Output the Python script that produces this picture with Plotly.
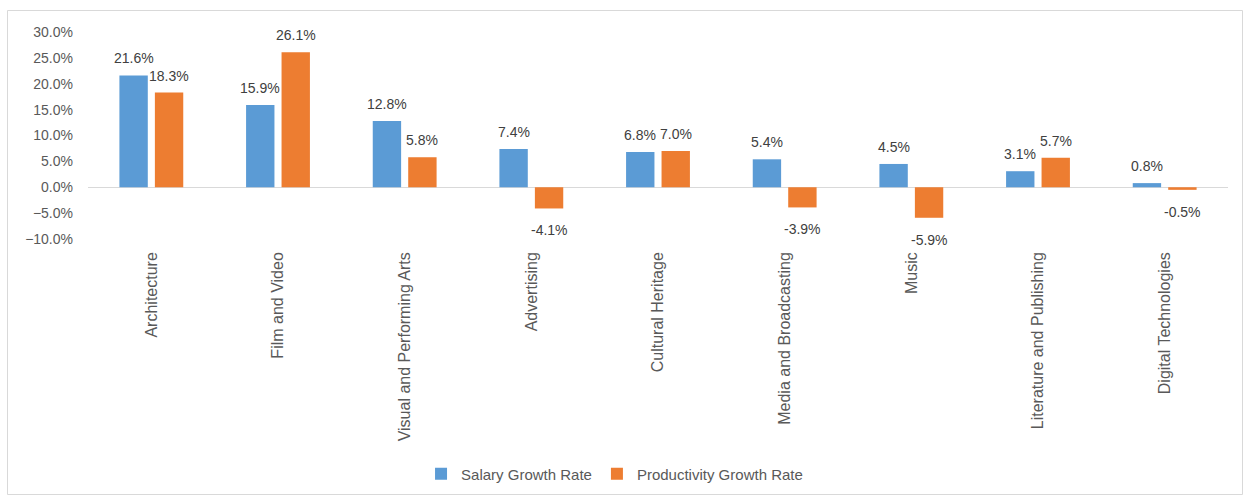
import plotly.graph_objects as go

categories = ["Architecture", "Film and Video", "Visual and Performing Arts", "Advertising",
              "Cultural Heritage", "Media and Broadcasting", "Music",
              "Literature and Publishing", "Digital Technologies"]
salary_growth = [21.6, 15.9, 12.8, 7.4, 6.8, 5.4, 4.5, 3.1, 0.8]
productivity_growth = [18.3, 26.1, 5.8, -4.1, 7.0, -3.9, -5.9, 5.7, -0.5]
y_ticks = [-10, -5, 0, 5, 10, 15, 20, 25, 30]

BLUE = "#5B9BD5"
ORANGE = "#ED7D31"
TEXT = "#595959"
FONT = "Liberation Sans, Arial, sans-serif"

W, H = 1244, 498
ML, MR, MT, MB = 88, 16, 32, 259
BARGAP, GROUPGAP = 0.44, 0.2
plot_w = W - ML - MR
plot_h = H - MT - MB
slot = plot_w / len(categories) * (1 - BARGAP) / 2

fig = go.Figure()
for name, vals, color in [("Salary Growth Rate", salary_growth, BLUE),
                          ("Productivity Growth Rate", productivity_growth, ORANGE)]:
    fig.add_trace(go.Bar(x=categories, y=[v / 100 for v in vals], name=name,
                         marker=dict(color=color, line=dict(width=0))))

# value labels above positive bars, below negative bars
annotations = []
for vals, shift in [(salary_growth, -slot / 2), (productivity_growth, slot / 2)]:
    for cat, v in zip(categories, vals):
        annotations.append(dict(x=cat, y=v / 100, text=f"{v:.1f}%", showarrow=False,
                                xshift=shift, yshift=17 if v >= 0 else -22,
                                yanchor="middle", xanchor="center",
                                font=dict(family=FONT, size=14, color="#404040")))


def px_x(px):
    return (px - ML) / plot_w


def px_y(py):
    return (H - MB - py) / plot_h


fig.update_layout(
    width=W, height=H,
    margin=dict(l=ML, r=MR, t=MT, b=MB),
    paper_bgcolor="white", plot_bgcolor="white",
    barmode="group", bargap=BARGAP, bargroupgap=GROUPGAP,
    font=dict(family=FONT, color=TEXT),
    annotations=annotations,
    shapes=[dict(type="rect", xref="paper", yref="paper",
                 x0=px_x(7.5), x1=px_x(1242.5), y0=px_y(494.5), y1=px_y(10.5),
                 line=dict(color="#D9D9D9", width=1), fillcolor="rgba(0,0,0,0)",
                 layer="below")],
    legend=dict(orientation="h", xref="container", yref="container",
                x=0.494, y=0.048, xanchor="center", yanchor="middle",
                font=dict(family=FONT, size=15, color=TEXT),
                itemwidth=30, tracegroupgap=0),
    xaxis=dict(tickangle=-90, showline=False, showgrid=False, ticks="",
               tickfont=dict(family=FONT, size=16, color=TEXT),
               ticklabelstandoff=9),
    yaxis=dict(range=[-0.10, 0.30], tickvals=[t / 100 for t in y_ticks],
               tickformat=".1%", showgrid=False, showline=False, ticks="",
               zeroline=True, zerolinecolor="#D9D9D9", zerolinewidth=1,
               tickfont=dict(family=FONT, size=14, color=TEXT),
               ticklabelstandoff=14),
)

fig.write_html("out.html")
